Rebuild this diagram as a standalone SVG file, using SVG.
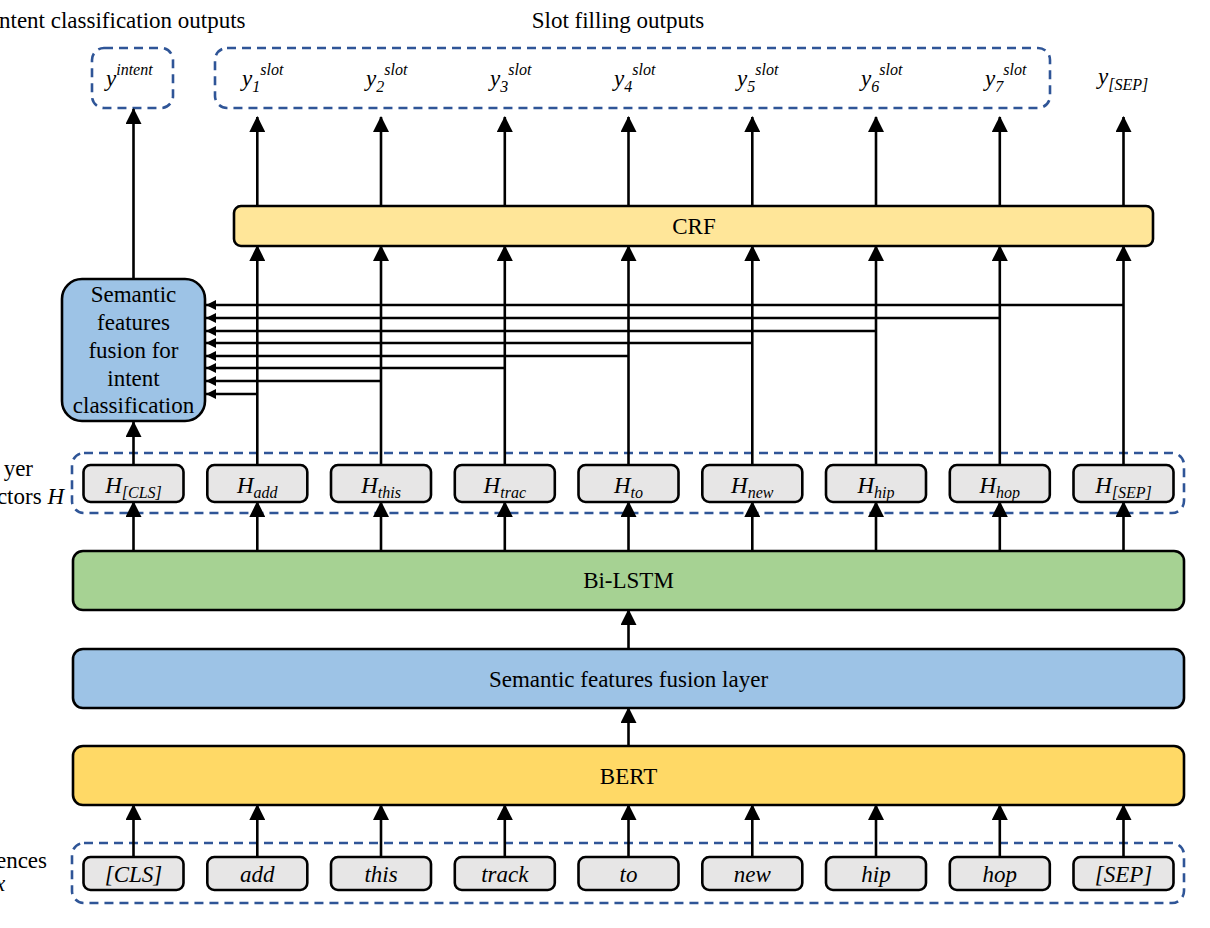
<svg xmlns="http://www.w3.org/2000/svg" width="1210" height="928" viewBox="0 0 1210 928">
<defs>
<style>
text{font-family:"Liberation Serif","Times New Roman",serif;font-size:23px;fill:#000}
.it{font-style:italic}
.c{text-anchor:middle}
.sub{font-size:16px}
.box{stroke:#000;stroke-width:2.6}
.tok{fill:#e7e6e6}
.dash{fill:none;stroke:#2f5597;stroke-width:2.6;stroke-dasharray:9 6}
.ln{fill:none;stroke:#000;stroke-width:2.6}
.a{marker-end:url(#ah)}
.s{marker-end:url(#sh)}
</style>
<marker id="ah" viewBox="0 0 16 16" refX="15" refY="8" markerWidth="16" markerHeight="16" markerUnits="userSpaceOnUse" orient="auto"><path d="M0,0 L16,8 L0,16 z" fill="#000"/></marker>
<marker id="sh" viewBox="0 0 10 10" refX="10" refY="5" markerWidth="10" markerHeight="10" markerUnits="userSpaceOnUse" orient="auto"><path d="M0,0 L10,5 L0,10 z" fill="#000"/></marker>
</defs>
<rect width="1210" height="928" fill="#fff"/>

<g id="titles">
<text x="-1" y="28">ntent classification outputs</text>
<text x="618" y="28" class="c">Slot filling outputs</text>
<text x="33" y="476" style="text-anchor:end">yer</text>
<text x="64" y="504" style="text-anchor:end">ctors <tspan class="it">H</tspan></text>
<text x="47" y="868" style="text-anchor:end">ences</text>
<text x="-5" y="891" class="it">x</text>
</g>

<g id="outputs">
<rect class="dash" x="92" y="48" width="81" height="60" rx="12"/>
<rect class="dash" x="215" y="48" width="835" height="60" rx="12"/>
<text x="106" y="86" class="it">y<tspan class="sub" dy="-11">intent</tspan></text>
<text x="242" y="86" class="it">y<tspan class="sub" dy="6">1</tspan><tspan class="sub" dy="-17">slot</tspan></text>
<text x="366" y="86" class="it">y<tspan class="sub" dy="6">2</tspan><tspan class="sub" dy="-17">slot</tspan></text>
<text x="490" y="86" class="it">y<tspan class="sub" dy="6">3</tspan><tspan class="sub" dy="-17">slot</tspan></text>
<text x="614" y="86" class="it">y<tspan class="sub" dy="6">4</tspan><tspan class="sub" dy="-17">slot</tspan></text>
<text x="737" y="86" class="it">y<tspan class="sub" dy="6">5</tspan><tspan class="sub" dy="-17">slot</tspan></text>
<text x="861" y="86" class="it">y<tspan class="sub" dy="6">6</tspan><tspan class="sub" dy="-17">slot</tspan></text>
<text x="985" y="86" class="it">y<tspan class="sub" dy="6">7</tspan><tspan class="sub" dy="-17">slot</tspan></text>
<text x="1098" y="84" class="it">y<tspan class="sub" dy="6">[SEP]</tspan></text>
</g>

<g id="crf">
<rect class="box" x="234" y="206" width="919" height="40" rx="7" fill="#ffe699"/>
<text x="694" y="234" class="c">CRF</text>
</g>

<g id="intent-fusion">
<rect class="box" x="62" y="279" width="143" height="142" rx="20" fill="#9dc3e6"/>
<text x="133.5" y="302" class="c">Semantic</text>
<text x="133.5" y="330" class="c">features</text>
<text x="133.5" y="358" class="c">fusion for</text>
<text x="133.5" y="386" class="c">intent</text>
<text x="133.5" y="413" class="c">classification</text>
</g>

<g id="hidden">
<rect class="dash" x="72" y="453" width="1112" height="60" rx="12"/>
<rect class="box tok" x="83.5" y="465" width="100" height="37" rx="7"/>
<rect class="box tok" x="207.3" y="465" width="100" height="37" rx="7"/>
<rect class="box tok" x="331" y="465" width="100" height="37" rx="7"/>
<rect class="box tok" x="454.8" y="465" width="100" height="37" rx="7"/>
<rect class="box tok" x="578.5" y="465" width="100" height="37" rx="7"/>
<rect class="box tok" x="702.3" y="465" width="100" height="37" rx="7"/>
<rect class="box tok" x="826" y="465" width="100" height="37" rx="7"/>
<rect class="box tok" x="949.8" y="465" width="100" height="37" rx="7"/>
<rect class="box tok" x="1073.5" y="465" width="100" height="37" rx="7"/>
<text x="133.5" y="493" class="c it">H<tspan class="sub" dy="5">[CLS]</tspan></text>
<text x="257.3" y="493" class="c it">H<tspan class="sub" dy="5">add</tspan></text>
<text x="381" y="493" class="c it">H<tspan class="sub" dy="5">this</tspan></text>
<text x="504.8" y="493" class="c it">H<tspan class="sub" dy="5">trac</tspan></text>
<text x="628.5" y="493" class="c it">H<tspan class="sub" dy="5">to</tspan></text>
<text x="752.3" y="493" class="c it">H<tspan class="sub" dy="5">new</tspan></text>
<text x="876" y="493" class="c it">H<tspan class="sub" dy="5">hip</tspan></text>
<text x="999.8" y="493" class="c it">H<tspan class="sub" dy="5">hop</tspan></text>
<text x="1123.5" y="493" class="c it">H<tspan class="sub" dy="5">[SEP]</tspan></text>
</g>

<g id="bilstm">
<rect class="box" x="73" y="551" width="1111" height="59" rx="10" fill="#a6d293"/>
<text x="628.5" y="588" class="c">Bi-LSTM</text>
</g>

<g id="fusion-layer">
<rect class="box" x="73" y="649" width="1111" height="59" rx="10" fill="#9dc3e6"/>
<text x="628.5" y="687" class="c">Semantic features fusion layer</text>
</g>

<g id="bert">
<rect class="box" x="73" y="746" width="1111" height="59" rx="10" fill="#ffd966"/>
<text x="628.5" y="784" class="c">BERT</text>
</g>

<g id="inputs">
<rect class="dash" x="72" y="843" width="1112" height="60" rx="12"/>
<rect class="box tok" x="83.5" y="857" width="100" height="33" rx="7"/>
<rect class="box tok" x="207.3" y="857" width="100" height="33" rx="7"/>
<rect class="box tok" x="331" y="857" width="100" height="33" rx="7"/>
<rect class="box tok" x="454.8" y="857" width="100" height="33" rx="7"/>
<rect class="box tok" x="578.5" y="857" width="100" height="33" rx="7"/>
<rect class="box tok" x="702.3" y="857" width="100" height="33" rx="7"/>
<rect class="box tok" x="826" y="857" width="100" height="33" rx="7"/>
<rect class="box tok" x="949.8" y="857" width="100" height="33" rx="7"/>
<rect class="box tok" x="1073.5" y="857" width="100" height="33" rx="7"/>
<text x="133.5" y="882" class="c it">[CLS]</text>
<text x="257.3" y="882" class="c it">add</text>
<text x="381" y="882" class="c it">this</text>
<text x="504.8" y="882" class="c it">track</text>
<text x="628.5" y="882" class="c it">to</text>
<text x="752.3" y="882" class="c it">new</text>
<text x="876" y="882" class="c it">hip</text>
<text x="999.8" y="882" class="c it">hop</text>
<text x="1123.5" y="882" class="c it">[SEP]</text>
</g>

<g id="connectors">
<path class="ln a" d="M133.5,279 V109"/>
<path class="ln a" d="M257.3,206 V117"/>
<path class="ln a" d="M381,206 V117"/>
<path class="ln a" d="M504.8,206 V117"/>
<path class="ln a" d="M628.5,206 V117"/>
<path class="ln a" d="M752.3,206 V117"/>
<path class="ln a" d="M876,206 V117"/>
<path class="ln a" d="M999.8,206 V117"/>
<path class="ln a" d="M1123.5,206 V117"/>

<path class="ln a" d="M133.5,465 V422"/>
<path class="ln a" d="M257.3,465 V246"/>
<path class="ln a" d="M381,465 V246"/>
<path class="ln a" d="M504.8,465 V246"/>
<path class="ln a" d="M628.5,465 V246"/>
<path class="ln a" d="M752.3,465 V246"/>
<path class="ln a" d="M876,465 V246"/>
<path class="ln a" d="M999.8,465 V246"/>
<path class="ln a" d="M1123.5,465 V246"/>

<path class="ln s" d="M1123.5,305 H206"/>
<path class="ln s" d="M999.8,318 H206"/>
<path class="ln s" d="M876,331 H206"/>
<path class="ln s" d="M752.3,343 H206"/>
<path class="ln s" d="M628.5,356 H206"/>
<path class="ln s" d="M504.8,368 H206"/>
<path class="ln s" d="M381,381 H206"/>
<path class="ln s" d="M257.3,394 H206"/>

<path class="ln a" d="M133.5,551 V502"/>
<path class="ln a" d="M257.3,551 V502"/>
<path class="ln a" d="M381,551 V502"/>
<path class="ln a" d="M504.8,551 V502"/>
<path class="ln a" d="M628.5,551 V502"/>
<path class="ln a" d="M752.3,551 V502"/>
<path class="ln a" d="M876,551 V502"/>
<path class="ln a" d="M999.8,551 V502"/>
<path class="ln a" d="M1123.5,551 V502"/>

<path class="ln a" d="M628.5,649 V610"/>
<path class="ln a" d="M628.5,746 V708"/>

<path class="ln a" d="M133.5,857 V805"/>
<path class="ln a" d="M257.3,857 V805"/>
<path class="ln a" d="M381,857 V805"/>
<path class="ln a" d="M504.8,857 V805"/>
<path class="ln a" d="M628.5,857 V805"/>
<path class="ln a" d="M752.3,857 V805"/>
<path class="ln a" d="M876,857 V805"/>
<path class="ln a" d="M999.8,857 V805"/>
<path class="ln a" d="M1123.5,857 V805"/>
</g>
</svg>
